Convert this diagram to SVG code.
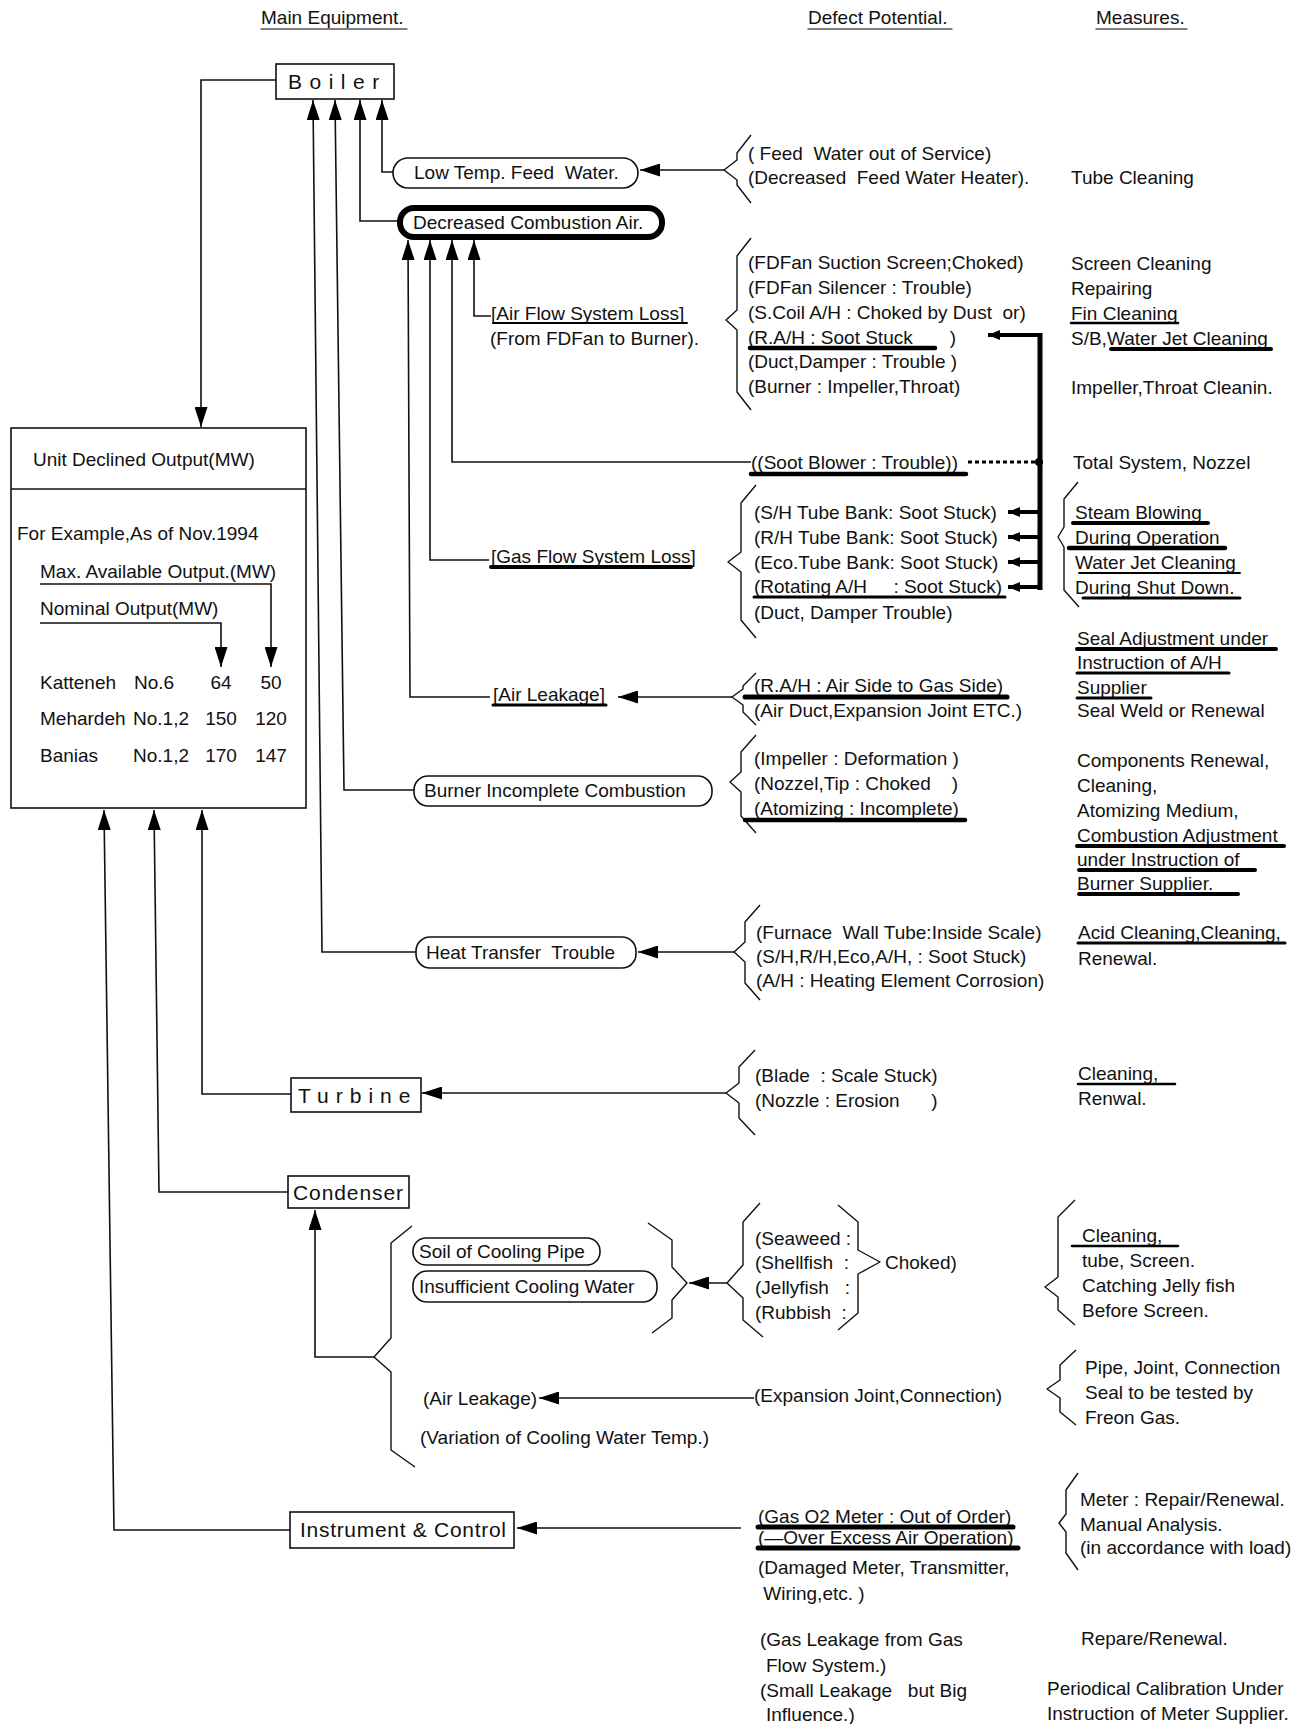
<svg xmlns="http://www.w3.org/2000/svg" width="1313" height="1724" viewBox="0 0 1313 1724">
<style>
.t{font-family:"Liberation Sans",Arial,sans-serif;font-size:19px;fill:#111;white-space:pre}
.bx{font-size:21px}
.ln{fill:none;stroke:#111;stroke-width:1.6}
.box{fill:#fff;stroke:#111;stroke-width:1.6}
.frame{fill:none;stroke:#111;stroke-width:1.6}
.br{fill:none;stroke:#111;stroke-width:1.4;stroke-linejoin:round}
.ul{stroke:#000;stroke-linecap:round}
.thk{fill:none;stroke:#000;stroke-width:5}
</style>
<defs>
<marker id="ah" markerUnits="userSpaceOnUse" markerWidth="20" markerHeight="13" refX="20" refY="6.5" orient="auto">
<path d="M0,0 L20,6.5 L0,13 z" fill="#000"/>
</marker>
<marker id="as" markerUnits="userSpaceOnUse" markerWidth="12" markerHeight="10" refX="12" refY="5" orient="auto">
<path d="M0,0 L12,5 L0,10 z" fill="#000"/>
</marker>
</defs>
<rect width="1313" height="1724" fill="#fff"/>

<g id="headers">
<text class="t" x="261" y="24">Main Equipment.</text>
<text class="t" x="808" y="24">Defect Potential.</text>
<text class="t" x="1096" y="24">Measures.</text>
<line class="ul" x1="261" y1="29" x2="407" y2="29" stroke-width="1.2"/>
<line class="ul" x1="808" y1="29" x2="952" y2="29" stroke-width="1.2"/>
<line class="ul" x1="1096" y1="29" x2="1187" y2="29" stroke-width="1.2"/>
</g>

<g id="unit-declined-output">
<rect class="frame" x="11" y="428" width="295" height="380"/>
<line class="ln" x1="11" y1="489" x2="306" y2="489"/>
<text class="t" x="33" y="466">Unit Declined Output(MW)</text>
<text class="t" x="17" y="540">For Example,As of Nov.1994</text>
<text class="t" x="40" y="578">Max. Available Output.(MW)</text>
<text class="t" x="40" y="615">Nominal Output(MW)</text>
<text class="t" x="40" y="689">Katteneh</text>
<text class="t" x="134" y="689">No.6</text>
<text class="t" x="221" y="689" text-anchor="middle">64</text>
<text class="t" x="271" y="689" text-anchor="middle">50</text>
<text class="t" x="40" y="725">Mehardeh</text>
<text class="t" x="133" y="725">No.1,2</text>
<text class="t" x="221" y="725" text-anchor="middle">150</text>
<text class="t" x="271" y="725" text-anchor="middle">120</text>
<text class="t" x="40" y="762">Banias</text>
<text class="t" x="133" y="762">No.1,2</text>
<text class="t" x="221" y="762" text-anchor="middle">170</text>
<text class="t" x="271" y="762" text-anchor="middle">147</text>
</g>

<g id="connectors">
<path class="ln" d="M276,80 H201 V427" marker-end="url(#ah)"/>
<path class="ln" d="M393,172 H382 V100" marker-end="url(#ah)"/>
<path class="ln" d="M398,221 H360 V100" marker-end="url(#ah)"/>
<path class="ln" d="M414,790 H344 L335,100" marker-end="url(#ah)"/>
<path class="ln" d="M416,952 H322 L313,100" marker-end="url(#ah)"/>
<path class="ln" d="M724,170 H640" marker-end="url(#ah)"/>
<path class="ln" d="M491,316 H474 V240" marker-end="url(#ah)"/>
<path class="ln" d="M751,462 H452 V240" marker-end="url(#ah)"/>
<path class="ln" d="M489,560 H430 V240" marker-end="url(#ah)"/>
<path class="ln" d="M490,697 H410 L408,240" marker-end="url(#ah)"/>
<path class="ln" d="M732,697 H618" marker-end="url(#ah)"/>
<path class="ln" d="M734,952 H638" marker-end="url(#ah)"/>
<path class="ln" d="M726,1093 H422" marker-end="url(#ah)"/>
<path class="ln" d="M291,1094 H202 V810" marker-end="url(#ah)"/>
<path class="ln" d="M288,1192 H159 L154,810" marker-end="url(#ah)"/>
<path class="ln" d="M290,1530 H114 L104,810" marker-end="url(#ah)"/>
<path class="ln" d="M374,1357 H315 V1210" marker-end="url(#ah)"/>
<path class="ln" d="M727,1283 H689" marker-end="url(#ah)"/>
<path class="ln" d="M754,1398 H539" marker-end="url(#ah)"/>
<path class="ln" d="M741,1528 H517" marker-end="url(#ah)"/>
<path class="ln" d="M40,584 H271 V667" marker-end="url(#ah)"/>
<path class="ln" d="M40,623 H221 V667" marker-end="url(#ah)"/>
<line class="thk" x1="1040" y1="333" x2="1040" y2="590"/>
<path d="M1040,335 H988" stroke="#000" stroke-width="4" marker-end="url(#as)"/>
<path d="M1040,512 H1008" stroke="#000" stroke-width="4" marker-end="url(#as)"/>
<path d="M1040,537 H1008" stroke="#000" stroke-width="4" marker-end="url(#as)"/>
<path d="M1040,562 H1008" stroke="#000" stroke-width="4" marker-end="url(#as)"/>
<path d="M1040,587 H1008" stroke="#000" stroke-width="4" marker-end="url(#as)"/>
<line x1="968" y1="462" x2="1036" y2="462" stroke="#000" stroke-width="3" stroke-dasharray="4 3"/>
<circle cx="1039" cy="462" r="4" fill="#000"/>
</g>

<g id="braces">
<path class="br" d="M751,135 L737,153 L737,160 L724,170 L737,180 L737,185 L751,203"/>
<path class="br" d="M751,238 L737,256 L737,310 L726,320 L737,330 L737,392 L751,410"/>
<path class="br" d="M756,485 L741,503 L741,552 L728,562 L741,572 L741,620 L756,638"/>
<path class="br" d="M756,673 L743,686 L743,689 L732,697 L743,705 L743,712 L756,725"/>
<path class="br" d="M756,735 L741,752 L741,772 L730,782 L741,792 L741,816 L756,833"/>
<path class="br" d="M760,905 L745,922 L745,942 L734,952 L745,962 L745,983 L760,1000"/>
<path class="br" d="M755,1050 L739,1067 L739,1083 L726,1093 L739,1103 L739,1118 L755,1135"/>
<path class="br" d="M1078,482 L1064,499 L1064,527 L1058,537 L1064,547 L1064,590 L1079,607"/>
<path class="br" d="M412,1226 L391,1243 L391,1338 L374,1357 L391,1372 L391,1450 L415,1467"/>
<path class="br" d="M648,1223 L672,1240 L672,1267 L687,1283 L672,1300 L672,1318 L652,1333"/>
<path class="br" d="M760,1203 L743,1222 L743,1265 L727,1283 L743,1298 L743,1320 L763,1337"/>
<path class="br" d="M838,1205 L858,1222 L858,1250 L880,1262 L858,1274 L858,1313 L838,1330"/>
<path class="br" d="M1075,1200 L1058,1217 L1058,1277 L1045,1287 L1058,1297 L1058,1310 L1075,1325"/>
<path class="br" d="M1076,1350 L1060,1365 L1060,1380 L1047,1389 L1060,1398 L1060,1412 L1076,1425"/>
<path class="br" d="M1078,1473 L1066,1490 L1066,1514 L1059,1523 L1066,1532 L1066,1553 L1078,1570"/>
</g>

<g id="boiler">
<rect class="box" x="276" y="64" width="118" height="35"/>
<text class="t bx" x="288" y="89" letter-spacing="7.5">Boiler</text>
</g>

<g id="low-temp-feed-water">
<rect class="box" x="393" y="158" width="245" height="30" rx="15"/>
<text class="t" x="414" y="179">Low Temp. Feed  Water.</text>
<text class="t" x="748" y="160">( Feed  Water out of Service)</text>
<text class="t" x="748" y="184">(Decreased  Feed Water Heater).</text>
<text class="t" x="1071" y="184">Tube Cleaning</text>
</g>

<g id="decreased-combustion-air">
<rect x="400" y="208" width="262" height="29" rx="14" fill="#fff" stroke="#000" stroke-width="6"/>
<text class="t" x="413" y="229">Decreased Combustion Air.</text>
</g>

<g id="air-flow-system-loss">
<text class="t" x="491" y="320">[Air Flow System Loss]</text>
<text class="t" x="490" y="345">(From FDFan to Burner).</text>
<text class="t" x="748" y="269">(FDFan Suction Screen;Choked)</text>
<text class="t" x="748" y="294">(FDFan Silencer : Trouble)</text>
<text class="t" x="748" y="319">(S.Coil A/H : Choked by Dust  or)</text>
<text class="t" x="748" y="344">(R.A/H : Soot Stuck       )</text>
<text class="t" x="748" y="368">(Duct,Damper : Trouble )</text>
<text class="t" x="748" y="393">(Burner : Impeller,Throat)</text>
<text class="t" x="1071" y="270">Screen Cleaning</text>
<text class="t" x="1071" y="295">Repairing</text>
<text class="t" x="1071" y="320">Fin Cleaning</text>
<text class="t" x="1071" y="345">S/B,Water Jet Cleaning</text>
<text class="t" x="1071" y="394">Impeller,Throat Cleanin.</text>
</g>

<g id="soot-blower">
<text class="t" x="751" y="469">((Soot Blower : Trouble))</text>
<text class="t" x="1073" y="469">Total System, Nozzel</text>
</g>

<g id="gas-flow-system-loss">
<text class="t" x="491" y="563">[Gas Flow System Loss]</text>
<text class="t" x="754" y="519">(S/H Tube Bank: Soot Stuck)</text>
<text class="t" x="754" y="544">(R/H Tube Bank: Soot Stuck)</text>
<text class="t" x="754" y="569">(Eco.Tube Bank: Soot Stuck)</text>
<text class="t" x="754" y="593">(Rotating A/H     : Soot Stuck)</text>
<text class="t" x="754" y="619">(Duct, Damper Trouble)</text>
<text class="t" x="1075" y="519">Steam Blowing</text>
<text class="t" x="1075" y="544">During Operation</text>
<text class="t" x="1075" y="569">Water Jet Cleaning</text>
<text class="t" x="1075" y="594">During Shut Down.</text>
</g>

<g id="air-leakage">
<text class="t" x="493" y="701">[Air Leakage]</text>
<text class="t" x="754" y="692">(R.A/H : Air Side to Gas Side)</text>
<text class="t" x="754" y="717">(Air Duct,Expansion Joint ETC.)</text>
<text class="t" x="1077" y="645">Seal Adjustment under</text>
<text class="t" x="1077" y="669">Instruction of A/H</text>
<text class="t" x="1077" y="694">Supplier</text>
<text class="t" x="1077" y="717">Seal Weld or Renewal</text>
</g>

<g id="burner-incomplete-combustion">
<rect class="box" x="414" y="776" width="298" height="30" rx="14"/>
<text class="t" x="424" y="797">Burner Incomplete Combustion</text>
<text class="t" x="754" y="765">(Impeller : Deformation )</text>
<text class="t" x="754" y="790">(Nozzel,Tip : Choked    )</text>
<text class="t" x="754" y="815">(Atomizing : Incomplete)</text>
<text class="t" x="1077" y="767">Components Renewal,</text>
<text class="t" x="1077" y="792">Cleaning,</text>
<text class="t" x="1077" y="817">Atomizing Medium,</text>
<text class="t" x="1077" y="842">Combustion Adjustment</text>
<text class="t" x="1077" y="866">under Instruction of</text>
<text class="t" x="1077" y="890">Burner Supplier.</text>
</g>

<g id="heat-transfer-trouble">
<rect class="box" x="416" y="937" width="220" height="31" rx="14"/>
<text class="t" x="426" y="959">Heat Transfer  Trouble</text>
<text class="t" x="756" y="939">(Furnace  Wall Tube:Inside Scale)</text>
<text class="t" x="756" y="963">(S/H,R/H,Eco,A/H, : Soot Stuck)</text>
<text class="t" x="756" y="987">(A/H : Heating Element Corrosion)</text>
<text class="t" x="1078" y="939">Acid Cleaning,Cleaning,</text>
<text class="t" x="1078" y="965">Renewal.</text>
</g>

<g id="turbine">
<rect class="box" x="291" y="1078" width="130" height="34"/>
<text class="t bx" x="298" y="1103" letter-spacing="7">Turbine</text>
<text class="t" x="755" y="1082">(Blade  : Scale Stuck)</text>
<text class="t" x="755" y="1107">(Nozzle : Erosion      )</text>
<text class="t" x="1078" y="1080">Cleaning,</text>
<text class="t" x="1078" y="1105">Renwal.</text>
</g>

<g id="condenser">
<rect class="box" x="288" y="1176" width="121" height="32"/>
<text class="t bx" x="293" y="1200" textLength="110">Condenser</text>
<rect class="box" x="413" y="1238" width="187" height="27" rx="13"/>
<text class="t" x="419" y="1258">Soil of Cooling Pipe</text>
<rect class="box" x="413" y="1271" width="244" height="31" rx="14"/>
<text class="t" x="419" y="1293">Insufficient Cooling Water</text>
<text class="t" x="755" y="1245">(Seaweed :</text>
<text class="t" x="755" y="1269">(Shellfish  :</text>
<text class="t" x="755" y="1294">(Jellyfish   :</text>
<text class="t" x="755" y="1319">(Rubbish  :</text>
<text class="t" x="885" y="1269">Choked)</text>
<text class="t" x="1082" y="1242">Cleaning,</text>
<text class="t" x="1082" y="1267">tube, Screen.</text>
<text class="t" x="1082" y="1292">Catching Jelly fish</text>
<text class="t" x="1082" y="1317">Before Screen.</text>
<text class="t" x="423" y="1405">(Air Leakage)</text>
<text class="t" x="754" y="1402">(Expansion Joint,Connection)</text>
<text class="t" x="420" y="1444">(Variation of Cooling Water Temp.)</text>
<text class="t" x="1085" y="1374">Pipe, Joint, Connection</text>
<text class="t" x="1085" y="1399">Seal to be tested by</text>
<text class="t" x="1085" y="1424">Freon Gas.</text>
</g>

<g id="instrument-control">
<rect class="box" x="290" y="1512" width="224" height="36"/>
<text class="t bx" x="300" y="1537" textLength="206">Instrument &amp; Control</text>
<text class="t" x="758" y="1523">(Gas O2 Meter : Out of Order)</text>
<text class="t" x="758" y="1544">(—Over Excess Air Operation)</text>
<text class="t" x="758" y="1574">(Damaged Meter, Transmitter,</text>
<text class="t" x="758" y="1600"> Wiring,etc. )</text>
<text class="t" x="760" y="1646">(Gas Leakage from Gas</text>
<text class="t" x="766" y="1672">Flow System.)</text>
<text class="t" x="760" y="1697">(Small Leakage   but Big</text>
<text class="t" x="766" y="1721">Influence.)</text>
<text class="t" x="1080" y="1506">Meter : Repair/Renewal.</text>
<text class="t" x="1080" y="1531">Manual Analysis.</text>
<text class="t" x="1080" y="1554">(in accordance with load)</text>
<text class="t" x="1081" y="1645">Repare/Renewal.</text>
<text class="t" x="1047" y="1695">Periodical Calibration Under</text>
<text class="t" x="1047" y="1720">Instruction of Meter Supplier.</text>
</g>

<g id="underlines">
<line class="ul" x1="493" y1="323" x2="687" y2="323" stroke-width="2"/>
<line class="ul" x1="750" y1="348" x2="935" y2="348" stroke-width="4.5"/>
<line class="ul" x1="1071" y1="323" x2="1178" y2="323" stroke-width="2.5"/>
<line class="ul" x1="1111" y1="349" x2="1271" y2="349" stroke-width="4"/>
<line class="ul" x1="751" y1="474" x2="966" y2="474" stroke-width="4.5"/>
<line class="ul" x1="491" y1="567" x2="691" y2="567" stroke-width="4"/>
<line class="ul" x1="754" y1="597" x2="1005" y2="597" stroke-width="3"/>
<line class="ul" x1="1073" y1="523" x2="1208" y2="523" stroke-width="4"/>
<line class="ul" x1="1069" y1="548" x2="1225" y2="548" stroke-width="4.5"/>
<line class="ul" x1="1079" y1="573" x2="1240" y2="573" stroke-width="1.8"/>
<line class="ul" x1="1083" y1="598" x2="1240" y2="598" stroke-width="3"/>
<line class="ul" x1="1077" y1="649" x2="1276" y2="649" stroke-width="4"/>
<line class="ul" x1="1077" y1="673" x2="1229" y2="673" stroke-width="3"/>
<line class="ul" x1="1077" y1="698" x2="1151" y2="698" stroke-width="3"/>
<line class="ul" x1="745" y1="697" x2="1007" y2="697" stroke-width="5"/>
<line class="ul" x1="493" y1="705" x2="606" y2="705" stroke-width="3"/>
<line class="ul" x1="745" y1="820" x2="965" y2="820" stroke-width="4.5"/>
<line class="ul" x1="1077" y1="846" x2="1284" y2="846" stroke-width="4"/>
<line class="ul" x1="1079" y1="870" x2="1255" y2="870" stroke-width="4"/>
<line class="ul" x1="1079" y1="894" x2="1238" y2="894" stroke-width="4"/>
<line class="ul" x1="1078" y1="943" x2="1285" y2="943" stroke-width="3"/>
<line class="ul" x1="1078" y1="1084" x2="1175" y2="1084" stroke-width="2.5"/>
<line class="ul" x1="1072" y1="1246" x2="1178" y2="1246" stroke-width="2.5"/>
<line class="ul" x1="758" y1="1527" x2="1013" y2="1527" stroke-width="5"/>
<line class="ul" x1="758" y1="1548" x2="1018" y2="1548" stroke-width="5"/>
</g>
</svg>
